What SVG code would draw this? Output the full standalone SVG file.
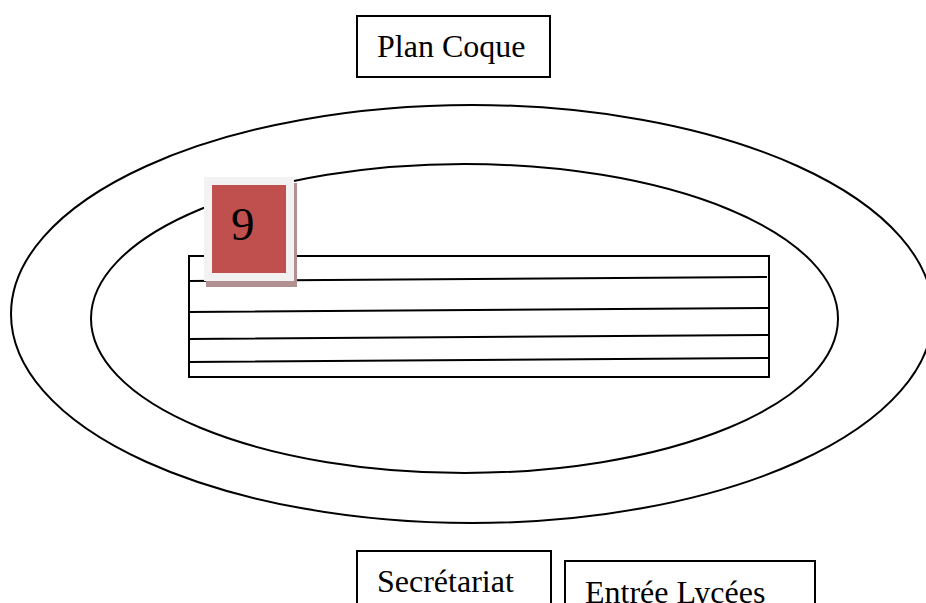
<svg xmlns="http://www.w3.org/2000/svg" width="926" height="603" viewBox="0 0 926 603">
<style>
.s{fill:none;stroke:#000;stroke-width:2}
.b{fill:#fff;stroke:#000;stroke-width:2}
.t{font-family:"Liberation Serif","Times New Roman",serif;font-size:32px;fill:#000}
</style>
<rect width="926" height="603" fill="#fff"/>
<g id="outer-ellipse"><ellipse class="s" cx="472" cy="314" rx="461" ry="209"/></g>
<g id="inner-ellipse"><ellipse class="s" cx="464.500" cy="318.500" rx="373.500" ry="154.500"/></g>
<g id="table">
<rect class="s" x="189" y="256" width="580" height="121"/>
<path class="s" d="M188 281L767 277M189 312L769 308M189 339L769 335M189 362L769 358"/>
</g>
<g id="plan-coque"><rect class="b" x="357" y="16" width="193" height="61"/><text class="t" x="377" y="57">Plan Coque</text></g>
<g id="secretariat"><rect class="b" x="357" y="551" width="194" height="70"/><text class="t" x="377" y="592">Secrétariat</text></g>
<g id="entree-lycees"><rect class="b" x="565" y="561" width="250" height="60"/><text class="t" x="585" y="603">Entrée Lycées</text></g>
<g id="badge">
<rect x="206" y="183" width="91" height="104" fill="#b09090"/>
<rect x="204" y="177" width="90" height="104" fill="#f2f2f2"/>
<rect x="212" y="185" width="74" height="88" fill="#c0504d"/>
<text x="231" y="240" font-family="Liberation Serif, serif" font-size="47px" fill="#000">9</text>
</g>
</svg>
